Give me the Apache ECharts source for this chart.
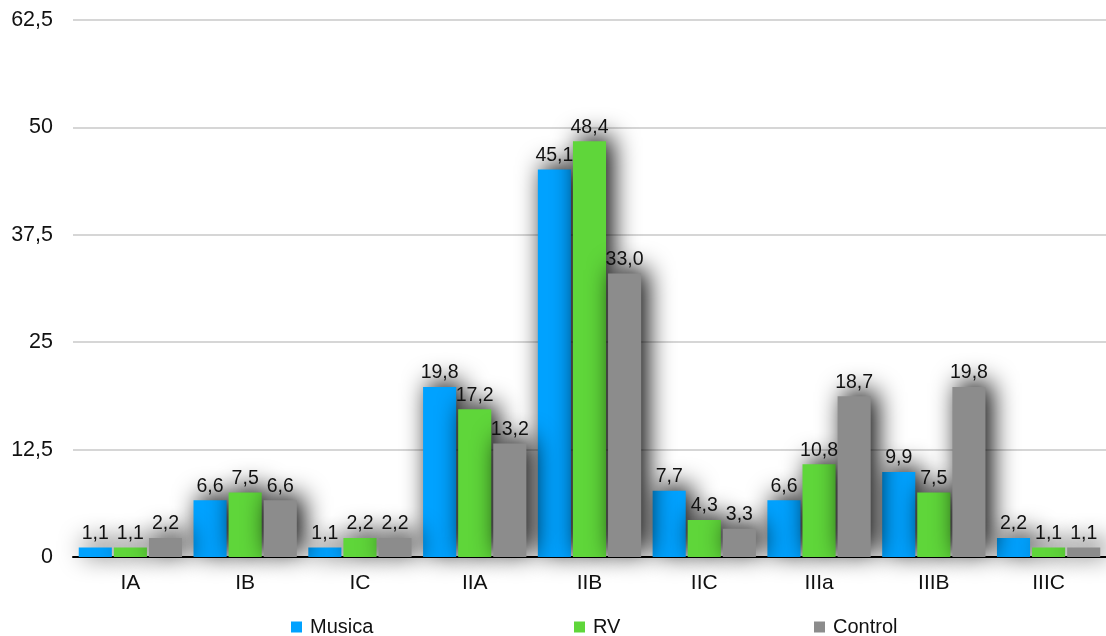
<!DOCTYPE html>
<html>
<head>
<meta charset="utf-8">
<script src="https://cdn.jsdelivr.net/npm/echarts@6/dist/echarts.min.js"></script>
<style>
html,body{margin:0;padding:0;background:#fff;}
#chart{width:1106px;height:636px;}
</style>
</head>
<body>
<div id="chart"></div>
<script>
// Categories and series values
const categories = ['IA', 'IB', 'IC', 'IIA', 'IIB', 'IIC', 'IIIa', 'IIIB', 'IIIC'];
const musica = [1.1, 6.6, 1.1, 19.8, 45.1, 7.7, 6.6, 9.9, 2.2];
const rv = [1.1, 7.5, 2.2, 17.2, 48.4, 4.3, 10.8, 7.5, 1.1];
const control = [2.2, 6.6, 2.2, 13.2, 33.0, 3.3, 18.7, 19.8, 1.1];
const seriesNames = ['Musica', 'RV', 'Control'];
const colors = ['#00A2FF', '#5FD63A', '#8C8C8C'];
const legendLeft = [286, 569, 809];

const FONT = '"Liberation Sans", Arial, sans-serif';
const comma = v => String(v).replace('.', ',');

function barSeries(name, data, color) {
  return {
    name: name,
    type: 'bar',
    data: data,
    barGap: '6%',
    barCategoryGap: '10%',
    itemStyle: {
      color: color,
      shadowColor: 'rgba(0,0,0,1)',
      shadowBlur: 26,
      shadowOffsetX: 6,
      shadowOffsetY: -4
    },
    label: {
      show: true,
      position: 'top',
      distance: 4,
      fontFamily: FONT,
      fontSize: 19.5,
      color: '#111',
      formatter: p => p.value.toFixed(1).replace('.', ',')
    }
  };
}

// one legend per series so each entry sits at its own spot along the bottom
const legends = seriesNames.map((n, i) => ({
  top: 612,
  left: legendLeft[i],
  itemWidth: 11,
  itemHeight: 11,
  itemGap: 0,
  icon: 'rect',
  textStyle: { fontFamily: FONT, fontSize: 20, color: '#111', padding: [0, 0, 0, 3] },
  data: [n]
}));

const chart = echarts.init(document.getElementById('chart'));
chart.setOption({
  animation: false,
  color: colors,
  grid: { left: 73, right: -5, top: 20, bottom: 79 },
  legend: legends,
  xAxis: {
    type: 'category',
    data: categories,
    axisLine: { lineStyle: { color: '#000', width: 2 } },
    axisTick: { show: false },
    axisLabel: { fontFamily: FONT, fontSize: 21, color: '#111', margin: 16 }
  },
  yAxis: {
    type: 'value',
    min: 0,
    max: 62.5,
    interval: 12.5,
    axisLine: { show: false },
    axisTick: { show: false },
    splitLine: { lineStyle: { color: '#C8C8C8', width: 1.5 } },
    axisLabel: { fontFamily: FONT, fontSize: 21.5, color: '#111', margin: 20, formatter: comma }
  },
  series: [
    barSeries(seriesNames[0], musica, colors[0]),
    barSeries(seriesNames[1], rv, colors[1]),
    barSeries(seriesNames[2], control, colors[2])
  ]
});
</script>
</body>
</html>
